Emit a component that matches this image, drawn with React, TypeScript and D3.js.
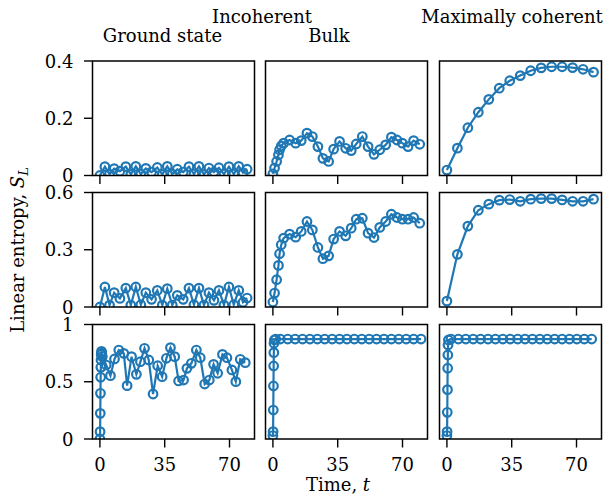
import React from "react";
import * as d3 from "d3";

// time grids
const tGround = [0, 2.7, 5.2, 7.7, 10.8, 14.0, 16.7, 19.4, 22.1, 24.8, 27.9, 31.0, 33.7, 36.4, 39.1, 41.8, 45.0, 48.1, 50.8, 53.5, 56.2, 58.9, 61.6, 64.3, 67.0, 69.7, 72.3, 75.0, 77.3, 79.5];
const tGround3 = [0, 0.1, 0.2, 0.3, 0.4, 0.5, 0.6, 0.7, 0.85, 1.0, 1.3, 3.4, 5.7, 7.9, 10.2, 12.9, 14.7, 17.1, 19.7, 21.9, 24.1, 26.4, 28.7, 31.2, 33.6, 35.9, 38.1, 40.4, 42.5, 45.2, 47.0, 49.4, 52.1, 54.2, 56.6, 59.1, 61.4, 63.6, 66.2, 68.6, 71.3, 73.4, 75.8, 78.5];
const tBulk = [0, 0.9, 2, 3, 3.6, 4.5, 5.8, 9, 12.3, 15.3, 18.4, 21.3, 24.3, 27, 30.1, 32.8, 36, 39.3, 42.3, 45, 48.3, 51.4, 54.6, 57.7, 60.9, 64, 67, 69.9, 73, 76, 79.3];
const tBulk3 = [0, 0.1, 0.2, 0.3, 0.4, 0.5, 0.6, 0.8, 1.5, 4, 8, 12, 16, 20, 24, 28, 32, 36, 40, 44, 48, 52, 56, 60, 64, 68, 72, 76, 80];
const tCoh = [0, 5.66, 11.31, 16.97, 22.63, 28.28, 33.94, 39.6, 45.25, 50.91, 56.57, 62.23, 67.88, 73.54, 79.2];
const tCoh3 = [0, 0.1, 0.2, 0.3, 0.4, 0.5, 0.6, 0.8, 2.2, 6.2, 10.2, 14.2, 18.2, 22.2, 26.2, 30.2, 34.2, 38.2, 42.2, 46.2, 50.2, 54.2, 58.2, 62.2, 66.2, 70.2, 74.2, 78.2];

// linear entropy values
const sGround1 = [0.0, 0.031, 0.005, 0.024, 0.015, 0.031, 0.004, 0.032, 0.005, 0.025, 0.012, 0.028, 0.004, 0.032, 0.005, 0.022, 0.012, 0.031, 0.005, 0.032, 0.004, 0.026, 0.012, 0.027, 0.005, 0.031, 0.005, 0.032, 0.01, 0.022];
const sGround2 = [0.0, 0.105, 0.01, 0.075, 0.045, 0.099, 0.01, 0.105, 0.012, 0.075, 0.04, 0.087, 0.01, 0.096, 0.01, 0.061, 0.04, 0.099, 0.012, 0.099, 0.01, 0.075, 0.035, 0.087, 0.01, 0.105, 0.012, 0.087, 0.025, 0.047];
const sGround3 = [0.0, 0.064, 0.224, 0.399, 0.539, 0.626, 0.69, 0.739, 0.765, 0.75, 0.72, 0.646, 0.553, 0.699, 0.777, 0.748, 0.466, 0.719, 0.565, 0.675, 0.792, 0.69, 0.393, 0.64, 0.544, 0.705, 0.798, 0.719, 0.507, 0.515, 0.617, 0.661, 0.777, 0.71, 0.48, 0.515, 0.652, 0.574, 0.739, 0.71, 0.603, 0.501, 0.696, 0.667];
const sBulk1 = [0.006, 0.026, 0.049, 0.072, 0.09, 0.103, 0.113, 0.124, 0.113, 0.122, 0.148, 0.136, 0.101, 0.06, 0.049, 0.092, 0.119, 0.095, 0.087, 0.11, 0.136, 0.101, 0.074, 0.09, 0.107, 0.134, 0.124, 0.113, 0.101, 0.122, 0.109];
const sBulk2 = [0.026, 0.073, 0.143, 0.218, 0.279, 0.326, 0.361, 0.382, 0.366, 0.396, 0.448, 0.404, 0.312, 0.253, 0.268, 0.356, 0.396, 0.373, 0.413, 0.46, 0.465, 0.387, 0.364, 0.417, 0.448, 0.486, 0.469, 0.46, 0.46, 0.469, 0.439];
const sBulk3 = [0.03, 0.064, 0.253, 0.463, 0.638, 0.754, 0.836, 0.865, 0.873, 0.873, 0.873, 0.873, 0.873, 0.873, 0.873, 0.873, 0.873, 0.873, 0.873, 0.873, 0.873, 0.873, 0.873, 0.873, 0.873, 0.873, 0.873, 0.873, 0.873];
const sCoh1 = [0.019, 0.0955, 0.167, 0.221, 0.266, 0.305, 0.331, 0.349, 0.366, 0.376, 0.38, 0.38, 0.377, 0.371, 0.361];
const sCoh2 = [0.031, 0.276, 0.424, 0.507, 0.539, 0.56, 0.563, 0.554, 0.565, 0.568, 0.568, 0.561, 0.554, 0.554, 0.565];
const sCoh3 = [0.03, 0.064, 0.233, 0.431, 0.618, 0.734, 0.821, 0.865, 0.873, 0.873, 0.873, 0.873, 0.873, 0.873, 0.873, 0.873, 0.873, 0.873, 0.873, 0.873, 0.873, 0.873, 0.873, 0.873, 0.873, 0.873, 0.873, 0.873];

const xTicks = [0, 35, 70];
const yMax = [0.4, 0.6, 1];
const yTicks = [[0, 0.2, 0.4], [0, 0.3, 0.6], [0, 0.5, 1]];

const panels = [
  { row: 0, col: 0, t: tGround, s: sGround1 },
  { row: 0, col: 1, t: tBulk, s: sBulk1 },
  { row: 0, col: 2, t: tCoh, s: sCoh1 },
  { row: 1, col: 0, t: tGround, s: sGround2 },
  { row: 1, col: 1, t: tBulk, s: sBulk2 },
  { row: 1, col: 2, t: tCoh, s: sCoh2 },
  { row: 2, col: 0, t: tGround3, s: sGround3 },
  { row: 2, col: 1, t: tBulk3, s: sBulk3 },
  { row: 2, col: 2, t: tCoh3, s: sCoh3 },
];

const colX = [92.5, 265.5, 439.5];
const rowY = [61, 192.5, 324.5];
const PW = 162;
const PH = 114.5;
const blue = "#1f77b4";
const font = "'DejaVu Serif', serif";

export default function App() {
  const x = d3.scaleLinear().domain([-4, 83.5]).range([0, PW]);
  const fmt = (v: number) => (v === 0 ? "0" : String(v));

  return (
    <svg width={612} height={495} style={{ position: "absolute", left: 0, top: 0 }} fontFamily={font} fontSize={18}>
      <rect width={612} height={495} fill="#fff" />
      {panels.map((p, i) => {
        const y = d3.scaleLinear().domain([0, yMax[p.row]]).range([PH, 0]);
        const pts = p.t.map((t, j) => [x(t), y(p.s[j])] as [number, number]);
        const line = d3.line()(pts) || "";
        const id = `clip${i}`;
        return (
          <g key={i} transform={`translate(${colX[p.col]},${rowY[p.row]})`}>
            <clipPath id={id}>
              <rect width={PW} height={PH} />
            </clipPath>
            <g clipPath={`url(#${id})`}>
              <path d={line} fill="none" stroke={blue} strokeWidth={2.2} />
              {pts.map((d, j) => (
                <circle key={j} cx={d[0]} cy={d[1]} r={4.3} fill="none" stroke={blue} strokeWidth={2.2} />
              ))}
            </g>
            <rect width={PW} height={PH} fill="none" stroke="#000" strokeWidth={1.5} />
            {xTicks.map((v) => (
              <g key={v}>
                <line x1={x(v)} x2={x(v)} y1={PH} y2={PH + 8.5} stroke="#000" strokeWidth={1.4} />
                {p.row === 2 && (
                  <text x={x(v)} y={PH + 32} textAnchor="middle">{v}</text>
                )}
              </g>
            ))}
            {p.col === 0 &&
              yTicks[p.row].map((v) => (
                <g key={v}>
                  <line x1={-8.5} x2={0} y1={y(v)} y2={y(v)} stroke="#000" strokeWidth={1.4} />
                  <text x={-19} y={y(v) + 6.5} textAnchor="end">{fmt(v)}</text>
                </g>
              ))}
          </g>
        );
      })}
      <text x={262} y={22.5} textAnchor="middle">Incoherent</text>
      <text x={512} y={23} textAnchor="middle">Maximally coherent</text>
      <text x={162.5} y={42} textAnchor="middle">Ground state</text>
      <text x={329} y={42} textAnchor="middle">Bulk</text>
      <text x={338} y={491} textAnchor="middle">
        Time, <tspan fontStyle="italic">t</tspan>
      </text>
      <text transform="translate(24,250) rotate(-90)" textAnchor="middle">
        Linear entropy, <tspan fontStyle="italic">S</tspan>
        <tspan fontStyle="italic" fontSize={13} dy={4}>L</tspan>
      </text>
    </svg>
  );
}
